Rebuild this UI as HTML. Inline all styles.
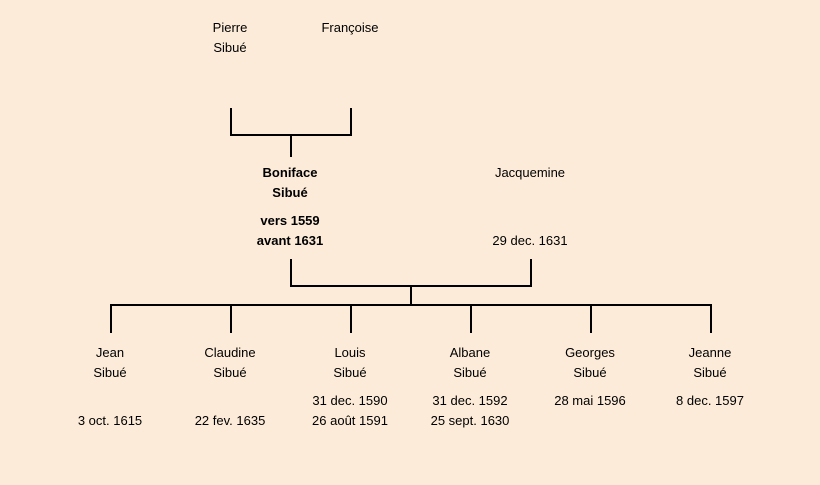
<!DOCTYPE html>
<html><head><meta charset="utf-8"><style>
html,body{margin:0;padding:0;background:#fcebd8;}
svg{display:block}
text{font-family:"Liberation Sans",sans-serif;font-size:13px;fill:#000;text-anchor:middle}
.b{font-weight:bold}
</style></head><body>
<svg width="820" height="485" viewBox="0 0 820 485">
<rect width="820" height="485" fill="#fcebd8"/>
<g stroke="#000" stroke-width="2" fill="none">
<path d="M231 108V135H351V108M291 135V157"/>
<path d="M291 259V286H531V259M411 286V305"/>
<path d="M111 333V305H711V333M231 305V333M351 305V333M471 305V333M591 305V333"/>
</g>
<text x="230" y="32">Pierre</text><text x="230" y="52">Sibué</text>
<text x="350" y="32">Françoise</text>
<text class="b" x="290" y="177">Boniface</text><text class="b" x="290" y="197">Sibué</text>
<text class="b" x="290" y="225">vers 1559</text><text class="b" x="290" y="245">avant 1631</text>
<text x="530" y="177">Jacquemine</text><text x="530" y="245">29 dec. 1631</text>
<text x="110" y="357">Jean</text><text x="110" y="377">Sibué</text><text x="110" y="425">3 oct. 1615</text>
<text x="230" y="357">Claudine</text><text x="230" y="377">Sibué</text><text x="230" y="425">22 fev. 1635</text>
<text x="350" y="357">Louis</text><text x="350" y="377">Sibué</text><text x="350" y="405">31 dec. 1590</text><text x="350" y="425">26 août 1591</text>
<text x="470" y="357">Albane</text><text x="470" y="377">Sibué</text><text x="470" y="405">31 dec. 1592</text><text x="470" y="425">25 sept. 1630</text>
<text x="590" y="357">Georges</text><text x="590" y="377">Sibué</text><text x="590" y="405">28 mai 1596</text>
<text x="710" y="357">Jeanne</text><text x="710" y="377">Sibué</text><text x="710" y="405">8 dec. 1597</text>
</svg>
</body></html>
